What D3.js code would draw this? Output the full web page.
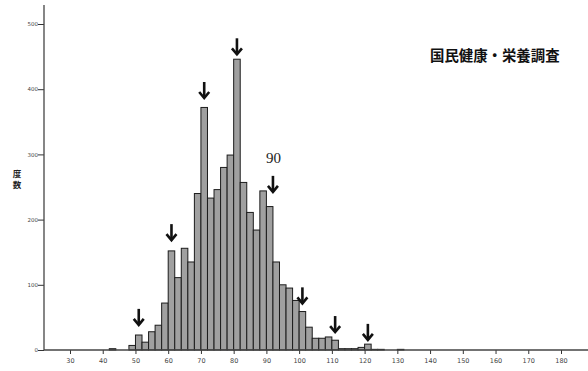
<!DOCTYPE html>
<html><head><meta charset="utf-8">
<script src="https://cdn.jsdelivr.net/npm/d3@7"></script>
<style>
html,body{margin:0;padding:0;background:#fff;}
svg{display:block;}
</style></head>
<body>
<svg id="c" width="588" height="371"></svg>
<script>
// bin starts (width 2) and frequencies
const binStarts = [42,44,46,48,50,52,54,56,58,60,62,64,66,68,70,72,74,76,78,80,82,84,86,88,90,92,94,96,98,100,102,104,106,108,110,112,114,116,118,120,122,124,126,128,130];
const counts    = [2,0,0,7,23,12,28,38,72,152,111,156,135,240,372,233,246,280,299,446,257,211,184,244,220,135,100,95,76,59,35,18,18,20,15,2,2,2,4,9,1,1,0,0,1];
const binWidth = 2;
const xTicks = [30,40,50,60,70,80,90,100,110,120,130,140,150,160,170,180];
const yTicks = [0,100,200,300,400,500];
// arrows: x value and the count level the arrow tip points at
const arrowX     = [51,61,71,81,92,101,111,121];
const arrowLevel = [37,167,385,452,241,70,26,14];
const title = "国民健康・栄養調査";
const yLabel = ["度","数"];
const peakLabel = "90";

const svg = d3.select("#c");
const x = d3.scaleLinear().domain([30,180]).range([70,561]);
const y = d3.scaleLinear().domain([0,500]).range([350,24]);
const x0 = 44, xEnd = 588;

// bars
svg.append("g").selectAll("rect")
  .data(binStarts.map((b,i)=>({b, v:counts[i]})).filter(d=>d.v>0))
  .join("rect")
  .attr("x", d=>x(d.b))
  .attr("y", d=>y(d.v))
  .attr("width", d=>x(d.b+binWidth)-x(d.b))
  .attr("height", d=>y(0)-y(d.v))
  .attr("fill","#a0a0a0")
  .attr("stroke","#1c1c1c")
  .attr("stroke-width",1);

// x axis
const xAxis = svg.append("g").attr("transform","translate(0,350)")
  .call(d3.axisBottom(x).tickValues(xTicks).tickSize(4).tickSizeOuter(0));
xAxis.select(".domain").remove();
xAxis.append("line").attr("x1",x0).attr("x2",xEnd).attr("y1",0).attr("y2",0)
  .attr("stroke","#444").attr("stroke-width",1.3);
xAxis.selectAll(".tick line").attr("stroke","#333");
xAxis.selectAll("text").attr("font-family","DejaVu Sans").attr("font-size",6.5).attr("fill","#444").attr("dy","0.9em");

// y axis
const yAxis = svg.append("g").attr("transform",`translate(${x0},0)`)
  .call(d3.axisLeft(y).tickValues(yTicks).tickSize(6).tickSizeOuter(0));
yAxis.select(".domain").remove();
yAxis.append("line").attr("x1",0).attr("x2",0).attr("y1",5).attr("y2",350)
  .attr("stroke","#444").attr("stroke-width",1.3);
yAxis.selectAll(".tick line").attr("stroke","#333");
yAxis.selectAll("text").attr("font-family","DejaVu Sans").attr("font-size",5.5).attr("fill","#444").attr("x",-6);

// y label (vertical stacked)
svg.append("g").selectAll("text").data(yLabel).join("text")
  .attr("x",17).attr("y",(d,i)=>177+i*11)
  .attr("text-anchor","middle")
  .attr("font-family","Noto Sans CJK JP").attr("font-weight","bold").attr("font-size",8.5)
  .attr("fill","#222").text(d=>d);

// arrows
const arrows = svg.append("g").attr("stroke","#111").attr("fill","none")
  .attr("stroke-width",2.6).attr("stroke-linecap","butt");
arrowX.forEach((ax,i)=>{
  const tx = x(ax), ty = y(arrowLevel[i]);
  arrows.append("path").attr("d",`M${tx},${ty-17}L${tx},${ty-1}`);
  arrows.append("path").attr("d",`M${tx-5},${ty-7}L${tx},${ty-1}L${tx+5},${ty-7}`);
});

// "90" label
svg.append("text").attr("x",273.5).attr("y",163).attr("text-anchor","middle")
  .attr("font-family","Liberation Serif").attr("font-size",15).attr("fill","#222").text(peakLabel);

// title
svg.append("text").attr("x",430).attr("y",61)
  .attr("font-family","Noto Sans CJK JP").attr("font-weight","bold").attr("font-size",14.4)
  .attr("fill","#111").text(title);
</script>
</body></html>
